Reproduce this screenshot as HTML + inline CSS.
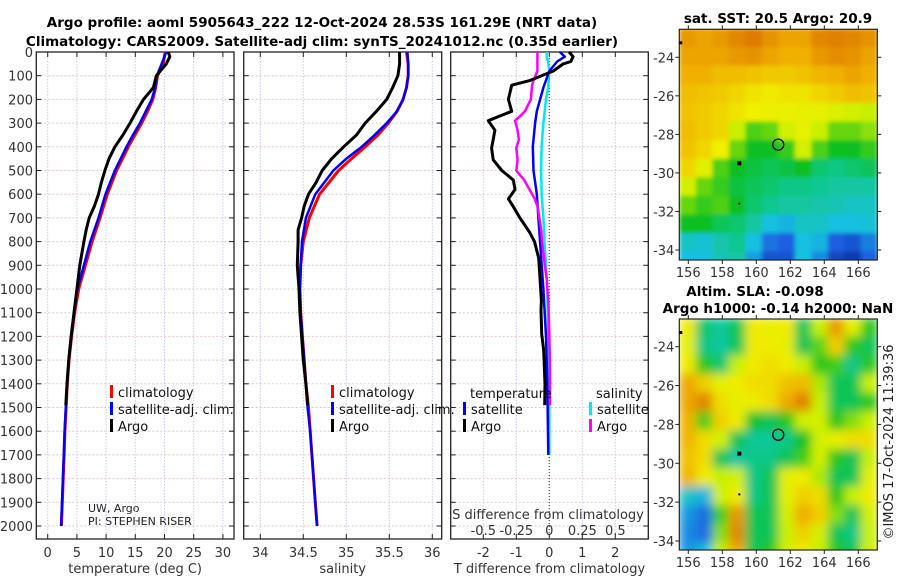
<!DOCTYPE html>
<html><head><meta charset="utf-8"><style>
html,body{margin:0;padding:0;background:#fff}
svg{display:block;font-family:"DejaVu Sans","Liberation Sans",sans-serif}
.t{font-weight:bold;font-size:13.5px}
.tk{font-size:13px;fill:#333}
.lg{font-size:13px;fill:#111}
</style></head><body>
<svg id="fig" width="900" height="580" viewBox="0 0 900 580" xmlns="http://www.w3.org/2000/svg">
<text class="t" x="322" y="27" text-anchor="middle">Argo profile: aoml 5905643_222 12-Oct-2024 28.53S 161.29E (NRT data)</text>
<text class="t" x="322" y="46" text-anchor="middle">Climatology: CARS2009. Satellite-adj clim: synTS_20241012.nc (0.35d earlier)</text>
<text class="t" x="778" y="23" text-anchor="middle">sat. SST: 20.5 Argo: 20.9</text>
<text class="t" x="755" y="296" text-anchor="middle">Altim. SLA: -0.098</text>
<text class="t" x="778" y="313" text-anchor="middle">Argo h1000: -0.14 h2000: NaN</text>
<text x="893" y="442" font-size="13" fill="#222" text-anchor="middle" transform="rotate(-90 893 442)">©IMOS 17-Oct-2024 11:39:36</text>
<text x="88" y="512" font-size="11" fill="#222">UW, Argo</text>
<text x="88" y="525" font-size="11" fill="#222">PI: STEPHEN RISER</text>
</svg>
<script>
// ---------- DATA ----------
const depthLevels=[0,50,100,150,200,250,300,350,400,450,500,600,700,800,900,1000,1100,1200,1300,1400,1500,1600,1700,1800,1900,2000];
const tempClim=[20.1,19.8,18.8,18.5,18.0,17.1,16.1,14.95,13.8,12.8,11.8,10.2,8.95,7.6,6.45,5.3,4.6,4.1,3.65,3.35,3.15,2.95,2.8,2.65,2.5,2.35];
const tempSat=[20.3,19.5,18.7,18.4,17.8,16.8,15.8,14.6,13.5,12.5,11.5,9.9,8.7,7.3,6.2,5.1,4.5,4.0,3.6,3.3,3.1,2.9,2.75,2.6,2.45,2.3];
const salClim=[35.70,35.72,35.72,35.70,35.66,35.59,35.49,35.37,35.22,35.06,34.91,34.69,34.57,34.50,34.47,34.46,34.47,34.49,34.51,34.53,34.56,34.58,34.60,34.62,34.64,34.66];
const salSat=[35.71,35.72,35.72,35.70,35.66,35.59,35.47,35.33,35.18,35.00,34.85,34.64,34.53,34.485,34.47,34.46,34.47,34.49,34.51,34.53,34.55,34.58,34.60,34.62,34.64,34.66];
const argoDepth=[0,20,50,100,150,200,250,300,350,400,450,500,550,600,650,700,750,800,900,1000,1100,1200,1300,1400,1490];
const argoTemp=[20.65,20.9,20.3,18.6,18.1,16.4,15.2,14.1,12.9,11.5,10.5,9.8,9.2,8.7,8.0,7.1,6.6,6.2,5.5,5.0,4.5,4.0,3.6,3.3,3.1];
const argoSal=[35.62,35.62,35.62,35.60,35.54,35.47,35.35,35.22,35.12,34.97,34.83,34.72,34.65,34.56,34.51,34.48,34.44,34.44,34.43,34.45,34.46,34.48,34.50,34.53,34.55];
const dtArgoDepth=[0,20,40,50,80,120,140,200,250,270,290,330,370,405,455,500,540,580,620,650,700,760,800,870,960,1050,1090,1190,1260,1400,1490];
const dtArgo=[0.6,0.72,0.65,0.42,0.12,-0.58,-1.14,-1.24,-1.14,-1.5,-1.85,-1.65,-1.7,-1.75,-1.7,-1.44,-1.09,-1.04,-1.24,-1.1,-0.89,-0.6,-0.45,-0.32,-0.28,-0.24,-0.25,-0.23,-0.17,-0.13,-0.14];
const dsArgo=[-0.09,-0.09,-0.09,-0.09,-0.09,-0.12,-0.13,-0.14,-0.185,-0.22,-0.26,-0.24,-0.23,-0.25,-0.24,-0.25,-0.19,-0.15,-0.11,-0.09,-0.075,-0.06,-0.055,-0.04,-0.02,-0.008,-0.005,0,0.003,0.005,0.005];
const dtSatDepth=[0,20,40,80,150,200,250,300,400,500,600,700,800,900,1000,1200,1400,1700];
const dtSat=[0.32,0.47,0.24,0,-0.18,-0.28,-0.38,-0.43,-0.5,-0.48,-0.38,-0.33,-0.28,-0.23,-0.18,-0.1,-0.06,-0.03];
const dsSat=[-0.02,-0.02,-0.01,0,-0.008,-0.025,-0.035,-0.045,-0.058,-0.062,-0.058,-0.045,-0.036,-0.025,-0.015,-0.008,0,0];
const depthTicks=[0,100,200,300,400,500,600,700,800,900,1000,1100,1200,1300,1400,1500,1600,1700,1800,1900,2000];
const tempTicks=[0,5,10,15,20,25,30];
const salTicks=[34,34.5,35,35.5,36];
const dtTicks=[-2,-1,0,1,2];
const dsTicks=[-0.5,-0.25,0,0.25,0.5];
const dsTickLabels=["-0.5","-0.25","0","0.25","0.5"];
const sstGrid=[
[0.92,0.9,0.92,0.95,0.97,0.93,0.9,0.9,0.95,0.96,0.95,0.93],
[0.9,0.9,0.9,0.92,0.93,0.9,0.88,0.88,0.92,0.94,0.93,0.9],
[0.88,0.88,0.86,0.86,0.85,0.84,0.84,0.85,0.87,0.88,0.9,0.88],
[0.86,0.85,0.84,0.82,0.8,0.79,0.8,0.8,0.82,0.84,0.86,0.85],
[0.85,0.84,0.82,0.8,0.78,0.77,0.77,0.76,0.76,0.74,0.72,0.7],
[0.86,0.84,0.82,0.7,0.6,0.62,0.72,0.76,0.7,0.62,0.62,0.65],
[0.85,0.82,0.78,0.62,0.55,0.55,0.58,0.72,0.6,0.55,0.55,0.58],
[0.82,0.75,0.6,0.55,0.52,0.5,0.52,0.55,0.48,0.46,0.48,0.5],
[0.72,0.62,0.58,0.52,0.5,0.48,0.46,0.46,0.44,0.42,0.42,0.42],
[0.62,0.58,0.6,0.55,0.48,0.45,0.42,0.42,0.4,0.38,0.35,0.35],
[0.55,0.55,0.5,0.48,0.42,0.3,0.28,0.35,0.35,0.3,0.3,0.32],
[0.35,0.32,0.4,0.45,0.3,0.18,0.15,0.3,0.28,0.15,0.12,0.2],
[0.3,0.3,0.38,0.42,0.25,0.12,0.12,0.3,0.22,0.08,0.05,0.15]];
const slaGrid=[
[0.78,0.5,0.45,0.52,0.78,0.76,0.78,0.52,0.7,0.9,0.75,0.58],
[0.75,0.48,0.45,0.52,0.78,0.78,0.75,0.52,0.62,0.82,0.58,0.52],
[0.78,0.58,0.5,0.7,0.78,0.8,0.78,0.7,0.58,0.6,0.48,0.58],
[0.88,0.82,0.75,0.78,0.8,0.8,0.84,0.85,0.68,0.52,0.52,0.7],
[0.88,0.93,0.8,0.75,0.78,0.8,0.87,0.94,0.7,0.52,0.52,0.58],
[0.86,0.6,0.82,0.78,0.55,0.52,0.58,0.72,0.72,0.58,0.65,0.7],
[0.86,0.8,0.72,0.52,0.46,0.46,0.48,0.56,0.72,0.76,0.8,0.8],
[0.84,0.8,0.52,0.44,0.48,0.48,0.52,0.6,0.72,0.58,0.52,0.7],
[0.86,0.78,0.7,0.72,0.48,0.52,0.75,0.78,0.68,0.52,0.52,0.75],
[0.38,0.32,0.72,0.78,0.48,0.52,0.75,0.82,0.8,0.58,0.7,0.78],
[0.28,0.22,0.6,0.9,0.52,0.52,0.72,0.87,0.82,0.65,0.52,0.72],
[0.26,0.22,0.65,0.93,0.52,0.52,0.7,0.82,0.72,0.52,0.48,0.7],
[0.28,0.33,0.7,0.87,0.52,0.58,0.72,0.78,0.7,0.58,0.52,0.72]];
const lonTicks=[156,158,160,162,164,166];
const latTicks=[-24,-26,-28,-30,-32,-34];
const argoLon=161.29, argoLat=-28.53;

// ---------- HELPERS ----------
const NS="http://www.w3.org/2000/svg";
const svg=document.getElementById('fig');
function mk(tag,attrs,parent){const e=document.createElementNS(NS,tag);for(const k in attrs)e.setAttribute(k,attrs[k]);(parent||svg).appendChild(e);return e;}
function lin(d0,d1,r0,r1){return v=>r0+(v-d0)*(r1-r0)/(d1-d0);}
const yD=lin(0,2000,52,526);
const PT=52,PB=539;

function panel(name,x0,x1,xs,xTicks,labels,title){
  const g=mk('g',{});
  
  
  xTicks.forEach(v=>{const l=mk('line',{x1:xs(v),x2:xs(v),y1:PT,y2:PB,stroke:'#c4cdf0','stroke-width':1,'stroke-dasharray':'1.5,1.5'},g);
    });
  depthTicks.forEach(v=>{const l=mk('line',{x1:x0,x2:x1,y1:yD(v),y2:yD(v),stroke:'#dcc8d0','stroke-width':1,'stroke-dasharray':'2,2'},g);
    
    mk('line',{x1:x0,x2:x0+5,y1:yD(v),y2:yD(v),stroke:'#222'},g);mk('line',{x1:x1-5,x2:x1,y1:yD(v),y2:yD(v),stroke:'#222'},g);});
  xTicks.forEach((v,i)=>{mk('line',{x1:xs(v),x2:xs(v),y1:PT,y2:PT+5,stroke:'#222'},g);mk('line',{x1:xs(v),x2:xs(v),y1:PB-5,y2:PB,stroke:'#222'},g);
    const t=mk('text',{x:xs(v),y:557,'text-anchor':'middle',class:'tk'},g);t.textContent=labels[i];
    });
  mk('rect',{x:x0,y:PT,width:x1-x0,height:PB-PT,fill:'none',stroke:'#222','stroke-width':1.3},g);
  const tt=mk('text',{x:(x0+x1)/2,y:573,'text-anchor':'middle',class:'tk'},g);tt.textContent=title;
  
}
function line(name,xs,xv,dv,color,w){
  const pts=xv.map((v,i)=>xs(v).toFixed(1)+','+yD(dv[i]).toFixed(1)).join(' ');
  const p=mk('polyline',{points:pts,fill:'none',stroke:color,'stroke-width':w,'stroke-linejoin':'round'});
  
}
function legend(name,x,y,color,label){
  const g=mk('g',{});
  
  mk('rect',{x:x,y:y-12,width:3,height:13,fill:color},g);
  const t=mk('text',{x:x+8,y:y,class:'lg'},g);t.textContent=label;
}

depthTicks.forEach(v=>{const t=mk('text',{x:33,y:yD(v)+5,'text-anchor':'end',class:'tk'});t.textContent=v;
  });

const xT=lin(0,30,47.7,222.9);
panel('temperature-panel',36.3,234,xT,tempTicks,tempTicks.map(String),'temperature (deg C)');
line('temp-climatology-line',xT,tempClim,depthLevels,'#f00',3);
line('temp-satellite-adj-line',xT,tempSat,depthLevels,'#00f',2.5);
line('temp-argo-line',xT,argoTemp,argoDepth,'#000',3);
legend('temp-legend-climatology',110,397,'#f00','climatology');
legend('temp-legend-satellite',110,414,'#00f','satellite-adj. clim.');
legend('temp-legend-argo',110,431,'#000','Argo');

const xS=lin(34,36,260.3,432.3);
panel('salinity-panel',243.7,441.7,xS,salTicks,salTicks.map(String),'salinity');
line('sal-climatology-line',xS,salClim,depthLevels,'#f00',3);
line('sal-satellite-adj-line',xS,salSat,depthLevels,'#00f',2.5);
line('sal-argo-line',xS,argoSal,argoDepth,'#000',3);
legend('sal-legend-climatology',331,397,'#f00','climatology');
legend('sal-legend-satellite',331,414,'#00f','satellite-adj. clim.');
legend('sal-legend-argo',331,431,'#000','Argo');

const xDT=lin(-2,2,483.3,615.3);
const xDS=lin(-0.5,0.5,483.3,615.3);
panel('difference-panel',450.7,648.3,xDT,dtTicks,dtTicks.map(String),'T difference from climatology');
const z=mk('line',{x1:xDT(0),x2:xDT(0),y1:PT,y2:PB,stroke:'#554','stroke-width':1.2,'stroke-dasharray':'1,2'});

line('s-diff-satellite-line',xDS,dsSat,dtSatDepth,'#00e8f0',2.5);
line('t-diff-satellite-line',xDT,dtSat,dtSatDepth,'#00f',2.5);
line('s-diff-argo-line',xDS,dsArgo,dtArgoDepth,'#f0f',2.5);
line('t-diff-argo-line',xDT,dtArgo,dtArgoDepth,'#000',3);
{const t=mk('text',{x:470,y:398,class:'lg'});t.textContent='temperature';}
{const t=mk('text',{x:596,y:398,class:'lg'});t.textContent='salinity';}
legend('diff-legend-t-satellite',463,414,'#00f','satellite');
legend('diff-legend-t-argo',463,431,'#000','Argo');
legend('diff-legend-s-satellite',589,414,'#00e8f0','satellite');
legend('diff-legend-s-argo',589,431,'#f0f','Argo');
{const t=mk('text',{x:548,y:519,'text-anchor':'middle',class:'tk'});t.textContent='S difference from climatology';}
dsTicks.forEach((v,i)=>{const t=mk('text',{x:xDS(v),y:535,'text-anchor':'middle',class:'tk'});t.textContent=dsTickLabels[i];
  });

// ---------- MAPS ----------
const stops=[[0,[10,42,154]],[0.15,[26,94,224]],[0.3,[24,192,224]],[0.45,[16,200,144]],[0.55,[16,192,32]],[0.7,[200,240,0]],[0.78,[240,240,0]],[0.88,[240,176,0]],[1,[216,106,0]]];
function cmap(v){v=Math.max(0,Math.min(1,v));for(let i=1;i<stops.length;i++){if(v<=stops[i][0]){const a=stops[i-1],b=stops[i];const f=(v-a[0])/(b[0]-a[0]);
  const c=a[1].map((x,k)=>Math.round(x+(b[1][k]-x)*f));return 'rgb('+c.join(',')+')';}}return 'rgb(216,106,0)';}
const defs=mk('defs',{});
function map(name,grid,x0,x1,y0,y1,lat24y,lat34y,blur,contrast){
  const xL=lin(156,166,688.3,858.3);const yL=lin(-24,-34,lat24y,lat34y);
  const fid=name+'-blur',cid=name+'-clip';
  const f=mk('filter',{id:fid,filterUnits:'userSpaceOnUse',x:x0,y:y0,width:x1-x0,height:y1-y0},defs);
  mk('feGaussianBlur',{stdDeviation:blur,edgeMode:'duplicate'},f);
  const cp=mk('clipPath',{id:cid},defs);mk('rect',{x:x0,y:y0,width:x1-x0,height:y1-y0},cp);
  const outer=mk('g',{'clip-path':'url(#'+cid+')'});
  
  const g=mk('g',{filter:'url(#'+fid+')'},outer);
  const lon0=155.47,lat0=-22.5,nC=grid[0].length,nR=grid.length,dLon=(167.12-lon0)/nC,dLat=(35.05-22.5)/nR;
  grid.forEach((row,r)=>row.forEach((v,c)=>{
    const xa=xL(lon0+c*dLon),xb=xL(lon0+(c+1)*dLon),ya=yL(lat0-r*dLat),yb=yL(lat0-(r+1)*dLat);
    const cell=mk('rect',{x:xa,y:ya,width:xb-xa+0.6,height:yb-ya+0.6,fill:cmap(0.7+(v-0.7)*contrast)},g);
    
  }));
  mk('rect',{x:x0,y:y0,width:x1-x0,height:y1-y0,fill:'none',stroke:'#222','stroke-width':1.2});
  const m=mk('circle',{cx:xL(argoLon),cy:yL(argoLat),r:5.5,fill:'none',stroke:'#000','stroke-width':1.3});
  
  mk('rect',{x:xL(159)-2,y:yL(-29.5)-2,width:4,height:4,fill:'#000'});
  mk('rect',{x:xL(159)-1,y:yL(-31.6)-1,width:2,height:2,fill:'#000'});
  mk('rect',{x:x0,y:y0+12,width:3,height:3,fill:'#000'});
  lonTicks.forEach(v=>{mk('line',{x1:xL(v),x2:xL(v),y1:y1,y2:y1+4,stroke:'#222'});mk('line',{x1:xL(v),x2:xL(v),y1:y0-4,y2:y0,stroke:'#222'});
    const t=mk('text',{x:xL(v),y:y1+17,'text-anchor':'middle',class:'tk'});t.textContent=v;
    });
  latTicks.forEach(v=>{mk('line',{x1:x0-4,x2:x0,y1:yL(v),y2:yL(v),stroke:'#222'});mk('line',{x1:x1,x2:x1+4,y1:yL(v),y2:yL(v),stroke:'#222'});
    const t=mk('text',{x:x0-5,y:yL(v)+5,'text-anchor':'end',class:'tk'});t.textContent=v;
    });
}
map('sst-map',sstGrid,679.3,877.3,29.3,260,57.3,250,2,1);
map('sla-map',slaGrid,679.3,877.3,319,550,346.7,541,5,1.1);
</script>
</body></html>
